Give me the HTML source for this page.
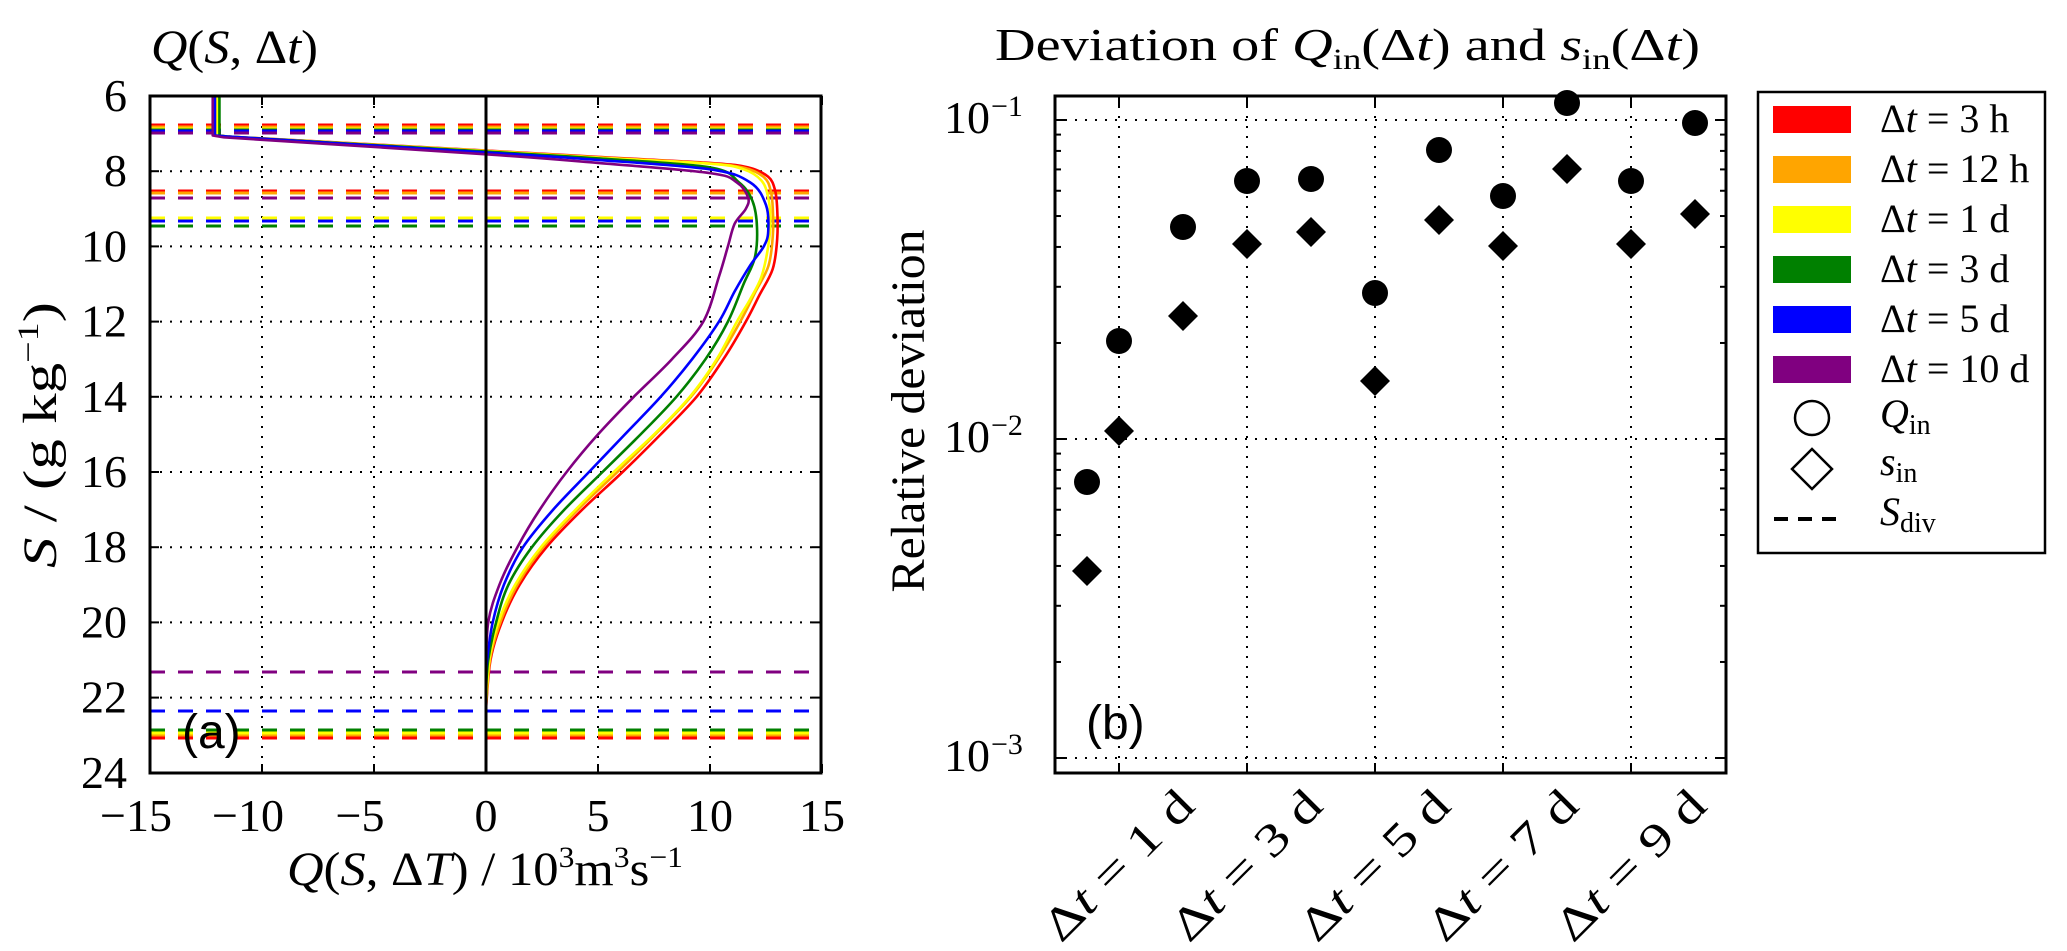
<!DOCTYPE html>
<html><head><meta charset="utf-8"><style>
html,body{margin:0;padding:0;background:#fff}
svg{display:block}
text{font-family:"Liberation Serif","DejaVu Serif",serif;fill:#000}
.sans{font-family:"Liberation Sans",sans-serif}
</style></head><body>
<svg id="s" width="2067" height="951" xmlns="http://www.w3.org/2000/svg">
<rect width="2067" height="951" fill="#fff"/>
<g id="grid"></g>
<g id="curves"></g>
<g id="pts"></g>
<rect x="150" y="96" width="671" height="677" fill="none" stroke="#000" stroke-width="3"/>
<line x1="486" y1="96" x2="486" y2="773" stroke="#000" stroke-width="3"/>
<rect x="1055" y="96" width="671" height="677" fill="none" stroke="#000" stroke-width="3"/>
<g id="ticks"></g>
<text x="151" y="63" font-size="48" textLength="167" lengthAdjust="spacingAndGlyphs"><tspan font-style="italic">Q</tspan>(<tspan font-style="italic">S</tspan>, Δ<tspan font-style="italic">t</tspan>)</text>
<text x="995" y="60" font-size="46" textLength="705" lengthAdjust="spacingAndGlyphs">Deviation of <tspan font-style="italic">Q</tspan><tspan font-size="30" dy="9">in</tspan><tspan dy="-9">(Δ</tspan><tspan font-style="italic">t</tspan>) and <tspan font-style="italic">s</tspan><tspan font-size="30" dy="9">in</tspan><tspan dy="-9">(Δ</tspan><tspan font-style="italic">t</tspan>)</text>
<g id="lt"></g>
<text x="287" y="885" font-size="48" textLength="396" lengthAdjust="spacingAndGlyphs"><tspan font-style="italic">Q</tspan>(<tspan font-style="italic">S</tspan>, Δ<tspan font-style="italic">T</tspan>) / 10<tspan font-size="30" dy="-18">3</tspan><tspan dy="18">m</tspan><tspan font-size="30" dy="-18">3</tspan><tspan dy="18">s</tspan><tspan font-size="30" dy="-18">−1</tspan></text>
<text transform="translate(56,435) rotate(-90)" font-size="48" text-anchor="middle" textLength="266" lengthAdjust="spacingAndGlyphs"><tspan font-style="italic">S</tspan> / (g kg<tspan font-size="30" dy="-18">−1</tspan><tspan dy="18">)</tspan></text>
<text class="sans" x="182" y="748" font-size="48">(a)</text>
<text class="sans" x="1086" y="739" font-size="48">(b)</text>
<text transform="translate(924,411) rotate(-90)" font-size="48" text-anchor="middle" textLength="363" lengthAdjust="spacingAndGlyphs">Relative deviation</text>
<g id="rt"></g>
<rect x="1758" y="92" width="287" height="461" fill="#fff" stroke="#000" stroke-width="2.5"/>
<g id="leg"></g>
</svg>
<script>
const NS="http://www.w3.org/2000/svg";
function el(p,t,a,txt){const e=document.createElementNS(NS,t);for(const k in a)e.setAttribute(k,a[k]);if(txt!==undefined)e.textContent=txt;document.getElementById(p).appendChild(e);return e;}
const X=q=>486+q*22.4, Y=s=>96+(s-6)*37.6;
[-10,-5,5,10].forEach(q=>el('grid','line',{x1:X(q),x2:X(q),y1:96,y2:773,stroke:'#000','stroke-width':2,'stroke-dasharray':'2,8'}));
for(let s=8;s<=22;s+=2)el('grid','line',{x1:150,x2:821,y1:Y(s),y2:Y(s),stroke:'#000','stroke-width':2,'stroke-dasharray':'2,8'});
const RX=d=>1055+d*64, RY=v=>120+(-1-Math.log10(v))*319;
[1,3,5,7,9].forEach(d=>el('grid','line',{x1:RX(d),x2:RX(d),y1:96,y2:773,stroke:'#000','stroke-width':2,'stroke-dasharray':'2,8'}));
[0.1,0.01,0.001].forEach(v=>el('grid','line',{x1:1055,x2:1726,y1:RY(v),y2:RY(v),stroke:'#000','stroke-width':2,'stroke-dasharray':'2,8'}));
const dl=[['red',125],['orange',127],['yellow',129],['green',130],['blue',131],['purple',133],
['red',191],['orange',193],['purple',198],['yellow',218],['blue',221],['green',226],
['purple',672],['blue',711],['green',730],['yellow',733],['orange',736],['red',738]];
dl.forEach(([c,y])=>el('curves','line',{x1:150,x2:821,y1:y,y2:y,stroke:c,'stroke-width':3,'stroke-dasharray':'15,13'}));
function cr(pts){let d='';for(let i=0;i<pts.length-1;i++){const p0=pts[Math.max(i-1,0)],p1=pts[i],p2=pts[i+1],p3=pts[Math.min(i+2,pts.length-1)];
const c1=[p1[0]+(p2[0]-p0[0])/6,p1[1]+(p2[1]-p0[1])/6],c2=[p2[0]-(p3[0]-p1[0])/6,p2[1]-(p3[1]-p1[1])/6];d+=` C${c1[0].toFixed(1)},${c1[1].toFixed(1)} ${c2[0].toFixed(1)},${c2[1].toFixed(1)} ${p2[0].toFixed(1)},${p2[1].toFixed(1)}`;}return d;}
function curve(c,top,list){const pts=list.map(([q,s])=>[X(q),Y(s)]);let d='M'+X(top)+','+Y(6)+' L'+X(top)+','+Y(7.05)+' L'+pts[0][0]+','+pts[0][1]+cr(pts);
el('curves','path',{d:d,fill:'none',stroke:c,'stroke-width':2.6,'stroke-linejoin':'round'});}
const red=[[-11.5,7.08],[0,7.45],[5,7.62],[10,7.78],[11.7,7.9],[12.6,8.15],[12.9,8.5],[13.0,9.0],[13.0,9.8],[12.8,10.6],[12.2,11.3],[11.6,12],[10.6,13],[9.4,14],[7.8,15],[6.1,16],[4.3,17],[2.7,18],[1.5,19],[0.7,20],[0.2,21],[0,22.3]];
const orange=red.map(([q,s])=>[q*(q>0?0.985:1),s>9?s-0.08:s+0.01]);
const yellow=[[-11.5,7.08],[0,7.46],[5,7.64],[10,7.8],[11.5,7.95],[12.3,8.25],[12.6,8.7],[12.7,9.3],[12.6,10],[12.3,10.8],[11.8,11.4],[11.2,12],[10.3,13],[9.1,14],[7.5,15],[5.7,16],[4.0,17],[2.45,18],[1.3,19],[0.55,20],[0.15,21],[0,22.2]];
const green=[[-11.5,7.08],[0,7.48],[5,7.66],[10,7.9],[11.3,8.3],[11.9,8.8],[12.1,9.5],[12.0,10.3],[11.5,11],[10.8,12],[9.8,13],[8.5,14],[6.9,15],[5.2,16],[3.5,17],[2.05,18],[1.0,19],[0.45,20],[0.1,21],[0,21.8]];
const blue=[[-11.5,7.08],[0,7.5],[5,7.7],[10,7.95],[11.8,8.3],[12.5,8.9],[12.6,9.6],[12.4,10],[11.8,10.5],[11.1,11.2],[10.4,12],[9.2,13],[7.8,14],[6.2,15],[4.6,16],[3.0,17],[1.65,18],[0.8,19],[0.3,20],[0.05,21],[0,21.5]];
const purple=[[-11.7,7.1],[0,7.55],[5,7.78],[10,8.05],[11.2,8.3],[11.7,8.7],[11.6,9.0],[11.1,9.4],[10.8,10],[10.4,10.8],[9.7,12],[8.3,13],[6.6,14],[5.0,15],[3.6,16],[2.4,17],[1.4,18],[0.6,19],[0.1,20],[0,21.3]];
curve('red',-12,red);curve('orange',-12,orange);curve('yellow',-12,yellow);curve('green',-11.9,green);curve('blue',-12.1,blue);curve('purple',-12.2,purple);
const px=[0.5,1,2,3,4,5,6,7,8,9,10];
const cy=[482,341,227,181,179,293,150,196,103,181,123];
const dy=[571,431,316,244,232,381,220,246,169,244,214];
px.forEach((d,i)=>{const x=RX(d);el('pts','circle',{cx:x,cy:cy[i],r:13,fill:'#000'});
el('pts','polygon',{points:`${x},${dy[i]-15} ${x+15},${dy[i]} ${x},${dy[i]+15} ${x-15},${dy[i]}`,fill:'#000'});});
for(let q=-15;q<=15;q+=5){[[773,-9],[96,9]].forEach(([y,l])=>el('ticks','line',{x1:X(q),x2:X(q),y1:y,y2:y+l,stroke:'#000','stroke-width':2}));
el('lt','text',{x:X(q)+(q<0?-14:0),y:831,'font-size':46,'text-anchor':'middle'},(q<0?'−':'')+Math.abs(q));}
for(let s=6;s<=24;s+=2){[[150,9],[821,-9]].forEach(([x,l])=>el('ticks','line',{x1:x,x2:x+l,y1:Y(s),y2:Y(s),stroke:'#000','stroke-width':2}));
el('lt','text',{x:127,y:Y(s)+15,'font-size':46,'text-anchor':'end'},s);}
for(let e=-3;e<=-1;e++){const y=RY(Math.pow(10,e));[[1055,10],[1726,-10]].forEach(([x,l])=>el('ticks','line',{x1:x,x2:x+l,y1:y,y2:y,stroke:'#000','stroke-width':2}));
el('rt','text',{x:990,y:y+13,'font-size':46,'text-anchor':'end'},'10');el('rt','text',{x:991,y:y-4,'font-size':30},'−'+(-e));}
for(let e=-4;e<=-1;e++)for(let m=2;m<=9;m++){const yy=RY(m*Math.pow(10,e));if(yy<96||yy>773)continue;[[1055,6],[1726,-6]].forEach(([x,l])=>el('ticks','line',{x1:x,x2:x+l,y1:yy,y2:yy,stroke:'#000','stroke-width':2}));}
[1,3,5,7,9].forEach(d=>{el('ticks','line',{x1:RX(d),x2:RX(d),y1:773,y2:763,stroke:'#000','stroke-width':2});el('ticks','line',{x1:RX(d),x2:RX(d),y1:96,y2:106,stroke:'#000','stroke-width':2});
const t=el('rt','text',{transform:`translate(${RX(d)+10},${876}) rotate(-45)`,'font-size':46,'text-anchor':'middle',textLength:192,lengthAdjust:'spacingAndGlyphs'});
t.innerHTML=`Δ<tspan font-style="italic">t</tspan> = ${d} d`;});
const lc=['red','orange','yellow','green','blue','purple'],ll=['3 h','12 h','1 d','3 d','5 d','10 d'];
lc.forEach((c,i)=>{const y=119+i*50;el('leg','rect',{x:1773,y:y-13,width:78,height:27,fill:c});
const t=el('leg','text',{x:1880,y:y+13,'font-size':40});t.innerHTML=`Δ<tspan font-style="italic">t</tspan> = ${ll[i]}`;});
el('leg','circle',{cx:1812,cy:418,r:17,fill:'none',stroke:'#000','stroke-width':2.5});
el('leg','polygon',{points:'1812,449 1832,469 1812,489 1792,469',fill:'none',stroke:'#000','stroke-width':2.5});
el('leg','line',{x1:1774,x2:1846,y1:519,y2:519,stroke:'#000','stroke-width':4,'stroke-dasharray':'14,10'});
let t=el('leg','text',{x:1880,y:427,'font-size':40});t.innerHTML='<tspan font-style="italic">Q</tspan><tspan font-size="28" dy="7">in</tspan>';
t=el('leg','text',{x:1880,y:475,'font-size':40});t.innerHTML='<tspan font-style="italic">s</tspan><tspan font-size="28" dy="7">in</tspan>';
t=el('leg','text',{x:1880,y:525,'font-size':40});t.innerHTML='<tspan font-style="italic">S</tspan><tspan font-size="28" dy="7">div</tspan>';
</script>
</body></html>
